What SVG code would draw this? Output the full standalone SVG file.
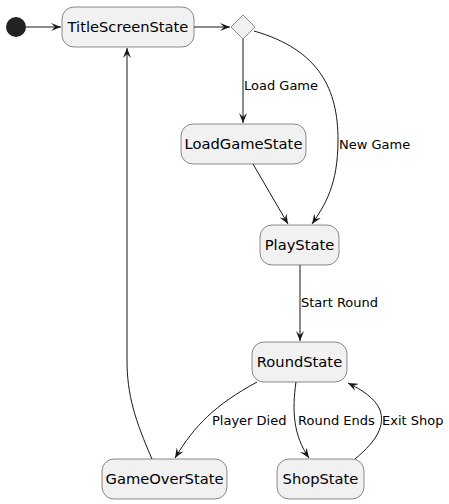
<svg xmlns="http://www.w3.org/2000/svg" width="449" height="504" viewBox="0 0 449 504">
<style>
.st rect{fill:#F1F1F1;stroke:#181818;stroke-width:0.5}
.st text{font-family:"DejaVu Sans",sans-serif;font-size:14.7px;fill:#000;text-anchor:middle}
.e path{fill:none;stroke:#181818;stroke-width:1}
.e text{font-family:"DejaVu Sans",sans-serif;font-size:13px;fill:#000}
</style>
<defs>
<marker id="a" markerWidth="10" markerHeight="8" refX="10" refY="4" orient="auto" markerUnits="userSpaceOnUse">
<path d="M0,0 L10,4 L0,8 L4,4 Z" fill="#181818"/>
</marker>
</defs>
<rect width="449" height="504" fill="#fff"/>
<g id="start"><circle cx="16" cy="27" r="10" fill="#222"/></g>
<g id="TitleScreenState" class="st"><rect x="62" y="7" width="132" height="40" rx="12"/><text x="128" y="32">TitleScreenState</text></g>
<g id="choice"><polygon points="243,15 255,27 243,39 231,27" fill="#F1F1F1" stroke="#181818" stroke-width="0.5"/></g>
<g id="LoadGameState" class="st"><rect x="181" y="124" width="125" height="40" rx="12"/><text x="243.5" y="149">LoadGameState</text></g>
<g id="PlayState" class="st"><rect x="260" y="225" width="79" height="40" rx="12"/><text x="299.5" y="250">PlayState</text></g>
<g id="RoundState" class="st"><rect x="252" y="342" width="95" height="40" rx="12"/><text x="299.5" y="367">RoundState</text></g>
<g id="ShopState" class="st"><rect x="277" y="459" width="87" height="40" rx="12"/><text x="320.5" y="484">ShopState</text></g>
<g id="GameOverState" class="st"><rect x="102" y="459" width="125" height="40" rx="12"/><text x="164.5" y="484">GameOverState</text></g>
<g id="connectors" class="e">
<path d="M26,27 L61,27" marker-end="url(#a)"/>
<path d="M194,27 L230,27" marker-end="url(#a)"/>
<path d="M243,39 L243,123" marker-end="url(#a)"/>
<text x="244" y="90">Load Game</text>
<path d="M254,31 C320,50 338,90 338,140 C338,185 325,205 312,224" marker-end="url(#a)"/>
<text x="339" y="149">New Game</text>
<path d="M253,164 L288,224" marker-end="url(#a)"/>
<path d="M300,265 L300,341" marker-end="url(#a)"/>
<text x="301" y="307">Start Round</text>
<path d="M257,382 C215,405 195,425 175,458" marker-end="url(#a)"/>
<text x="212" y="425">Player Died</text>
<path d="M296,382 C292,410 293,435 309,458" marker-end="url(#a)"/>
<text x="298" y="425">Round Ends</text>
<path d="M355,459 C378,440 385,425 380,410 C375,398 362,390 348,383" marker-end="url(#a)"/>
<text x="382" y="425">Exit Shop</text>
<path d="M152,459 C135,420 127,395 127,360 L127,48" marker-end="url(#a)"/>
</g>
</svg>
